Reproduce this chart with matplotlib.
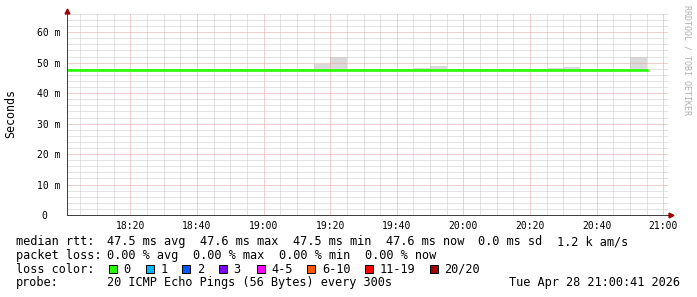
import matplotlib
matplotlib.use("Agg")
import matplotlib.pyplot as plt
from matplotlib.patches import Rectangle
from matplotlib.lines import Line2D
from matplotlib.ticker import MultipleLocator, FixedLocator, FixedFormatter

# 5 minute bins (start time of each bin)
bin_times = ["18:00", "18:05", "18:10", "18:15", "18:20", "18:25", "18:30", "18:35",
             "18:40", "18:45", "18:50", "18:55", "19:00", "19:05", "19:10", "19:15",
             "19:20", "19:25", "19:30", "19:35", "19:40", "19:45", "19:50", "19:55",
             "20:00", "20:05", "20:10", "20:15", "20:20", "20:25", "20:30", "20:35",
             "20:40", "20:45", "20:50"]
last_time = "20:55"

# median rtt in ms
median_rtt = [47.5, 47.5, 47.5, 47.5, 47.5, 47.5, 47.5, 47.5,
              47.5, 47.5, 47.5, 47.5, 47.5, 47.5, 47.5, 47.6,
              47.6, 47.6, 47.6, 47.5, 47.5, 47.6, 47.6, 47.5,
              47.5, 47.5, 47.6, 47.6, 47.5, 47.5, 47.6, 47.5,
              47.5, 47.6, 47.5]

# smoke band (min / max ping of each bin) in ms
smoke_min = [47.3] * 35
smoke_max = [47.8, 48.0, 47.8, 47.8, 47.8, 47.8, 47.8, 47.8,
             47.8, 47.8, 47.8, 47.8, 47.8, 47.8, 47.8, 49.7,
             51.7, 47.8, 47.8, 47.8, 47.8, 48.3, 48.9, 47.8,
             47.8, 47.8, 47.8, 47.8, 47.8, 48.3, 48.7, 47.8,
             47.8, 47.8, 51.7]

x_tick_labels = ["18:20", "18:40", "19:00", "19:20", "19:40", "20:00", "20:20", "20:40", "21:00"]
y_tick_values = [0, 10, 20, 30, 40, 50, 60]
y_tick_labels = ["0  ", "10 m", "20 m", "30 m", "40 m", "50 m", "60 m"]

stats_rtt = ["47.5 ms avg", "47.6 ms max", "47.5 ms min", "47.6 ms now", "0.0 ms sd", "1.2 k am/s"]
stats_loss = ["0.00 % avg", "0.00 % max", "0.00 % min", "0.00 % now"]
loss_labels = ["0", "1", "2", "3", "4-5", "6-10", "11-19", "20/20"]
loss_colors = ["#26ff00", "#00b8ff", "#0059ff", "#7e00ff", "#ff00ff", "#ff5500", "#ff0000", "#a10000"]
probe_text = "20 ICMP Echo Pings (56 Bytes) every 300s"
stamp_text = "Tue Apr 28 21:00:41 2026"


def to_min(s):
    h, m = s.split(":")
    return int(h) * 60 + int(m)


W, H = 697, 297
MONO = "DejaVu Sans Mono"


def fx(px):
    return px / W


def fy(py):
    return 1 - py / H


fig = plt.figure(figsize=(W / 100, H / 100), dpi=100)
fig.patch.set_facecolor("white")
ax = fig.add_axes([fx(67), fy(215), (668 - 67) / W, (215 - 13) / H])

t = [to_min(s) for s in bin_times] + [to_min(last_time)]
smin = smoke_min + [smoke_min[-1]]
smax = smoke_max + [smoke_max[-1]]
med = median_rtt + [median_rtt[-1]]

ax.fill_between(t, smin, smax, step="post", color="#dadada", lw=0, zorder=1)
ax.step(t, med, where="post", color="#26ff00", lw=1.9, zorder=3)

ax.set_xlim(1081.0, 1261.4)
ax.set_ylim(0, 66.3)

ax.xaxis.set_major_locator(FixedLocator([to_min(s) for s in x_tick_labels]))
ax.xaxis.set_major_formatter(FixedFormatter(x_tick_labels))
ax.xaxis.set_minor_locator(MultipleLocator(5))
ax.yaxis.set_major_locator(FixedLocator(y_tick_values))
ax.yaxis.set_major_formatter(FixedFormatter(y_tick_labels))
ax.yaxis.set_minor_locator(MultipleLocator(2))

ax.set_axisbelow(False)
ax.grid(which="minor", color="#c8c8c8", lw=0.72, ls=(0, (1, 1)))
ax.grid(which="major", color="#e6a0a0", lw=0.72, ls=(0, (1, 1)))

ax.tick_params(which="both", length=0)
ax.tick_params(axis="x", pad=4.5)
ax.tick_params(axis="y", pad=5)
for lab in ax.get_xticklabels() + ax.get_yticklabels():
    lab.set_family(MONO)
    lab.set_fontsize(7)
    lab.set_color("#000000")

for side in ["top", "right"]:
    ax.spines[side].set_visible(False)
for side in ["left", "bottom"]:
    ax.spines[side].set_color("#404040")
    ax.spines[side].set_linewidth(0.72)
    ax.spines[side].set_zorder(4)

# axis arrows
fig.add_artist(Line2D([fx(66.8)], [fy(10.5)], marker="^", ms=3.5, color="#a00000",
                      transform=fig.transFigure))
fig.add_artist(Line2D([fx(670.5)], [fy(215)], marker=">", ms=3.5, color="#a00000",
                      transform=fig.transFigure))

fig.text(fx(10.7), fy(114), "Seconds", rotation=90, ha="center", va="center",
         fontsize=8.4, family=MONO)
fig.text(fx(686.5), fy(60), "RRDTOOL / TOBI OETIKER", rotation=270, ha="center",
         va="center", fontsize=6, family=MONO, color="#b0b0b0")

# legend block
txt = dict(fontsize=8.55, family=MONO, va="baseline", color="#000000")
fig.text(fx(16), fy(245.3), "median rtt:", **txt)
for s, x in zip(stats_rtt, [107, 199.8, 292.6, 385.5, 478.3, 556.8]):
    fig.text(fx(x), fy(245.3), s, **txt)

fig.text(fx(16), fy(258.9), "packet loss:", **txt)
for s, x in zip(stats_loss, [107.3, 193.3, 279.3, 365]):
    fig.text(fx(x), fy(258.9), s, **txt)

fig.text(fx(16), fy(272.7), "loss color:", **txt)
box_x = [108.7, 145.7, 182.3, 219, 256.7, 307.3, 365, 430]
for lab, c, x in zip(loss_labels, loss_colors, box_x):
    fig.add_artist(Rectangle((fx(x), fy(273)), 8 / W, 8 / H, facecolor=c,
                             edgecolor="black", lw=0.72, transform=fig.transFigure))
    fig.text(fx(x + 14.5), fy(272.7), lab, **txt)

fig.text(fx(16), fy(286.4), "probe:", **txt)
fig.text(fx(107.3), fy(286.4), probe_text, **txt)
fig.text(fx(680), fy(286.4), stamp_text, ha="right", **txt)

fig.savefig("out.png", dpi=100)
